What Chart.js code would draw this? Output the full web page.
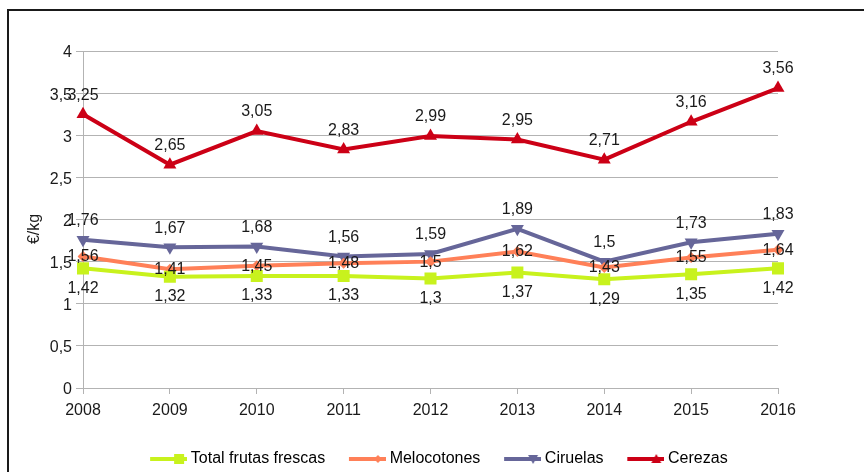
<!DOCTYPE html>
<html>
<head>
<meta charset="utf-8">
<script src="https://cdn.jsdelivr.net/npm/chart.js@4.4.0/dist/chart.umd.min.js"></script>
<style>
  html, body { margin: 0; padding: 0; background: #fff; overflow: hidden; }
  #wrap { position: relative; width: 864px; height: 472px; }
  #frame { position: absolute; left: 7px; top: 9px; width: 900px; height: 500px;
           border-left: 2px solid #1a1a1a; border-top: 2px solid #1a1a1a; pointer-events: none; }
</style>
</head>
<body>
<div id="wrap">
  <canvas id="chart" width="864" height="472"></canvas>
  <div id="frame"></div>
</div>
<script>
// datos (€/kg)
const years = ['2008', '2009', '2010', '2011', '2012', '2013', '2014', '2015', '2016'];
const totalFrutas = [1.42, 1.32, 1.33, 1.33, 1.3, 1.37, 1.29, 1.35, 1.42];
const melocotones = [1.56, 1.41, 1.45, 1.48, 1.5, 1.62, 1.43, 1.55, 1.64];
const ciruelas = [1.76, 1.67, 1.68, 1.56, 1.59, 1.89, 1.5, 1.73, 1.83];
const cerezas = [3.25, 2.65, 3.05, 2.83, 2.99, 2.95, 2.71, 3.16, 3.56];
const yTicks = [0, 0.5, 1, 1.5, 2, 2.5, 3, 3.5, 4];

const fmt = v => String(v).replace('.', ',');
const FONT = '"Liberation Sans", Arial, sans-serif';

// icono de leyenda: línea con marcador (parte izquierda transparente)
function legendIcon(color, shape) {
    const c = document.createElement('canvas');
    c.width = 55; c.height = 14;
    const g = c.getContext('2d');
    const x0 = 18;
    g.fillStyle = color;
    g.fillRect(x0, 5, 37, 4);
    const cx = x0 + 29, cy = 7;
    g.beginPath();
    if (shape === 'rect') {
        g.rect(cx - 5, cy - 5, 10, 10);
    } else if (shape === 'diamond') {
        g.moveTo(cx, cy - 4); g.lineTo(cx + 4, cy); g.lineTo(cx, cy + 4); g.lineTo(cx - 4, cy);
    } else if (shape === 'down') {
        g.moveTo(cx - 5, cy - 4); g.lineTo(cx + 5, cy - 4); g.lineTo(cx, cy + 5);
    } else {
        g.moveTo(cx - 5, cy + 4); g.lineTo(cx + 5, cy + 4); g.lineTo(cx, cy - 5);
    }
    g.closePath();
    g.fill();
    return c;
}

// etiquetas de valores sobre los puntos
const valueLabels = {
    id: 'valueLabels',
    afterDatasetsDraw(chart) {
        const ctx = chart.ctx;
        ctx.save();
        ctx.font = '16px ' + FONT;
        ctx.fillStyle = '#1a1a1a';
        ctx.textAlign = 'center';
        ctx.textBaseline = 'middle';
        chart.data.datasets.forEach((ds, i) => {
            const meta = chart.getDatasetMeta(i);
            meta.data.forEach((pt, j) => {
                ctx.fillText(fmt(ds.data[j]), pt.x, pt.y + ds.labelOffset);
            });
        });
        ctx.restore();
    }
};

// título del eje Y
const yTitle = {
    id: 'yTitle',
    afterDraw(chart) {
        const ctx = chart.ctx;
        ctx.save();
        ctx.translate(35, 229);
        ctx.rotate(-Math.PI / 2);
        ctx.font = '16px ' + FONT;
        ctx.fillStyle = '#1a1a1a';
        ctx.textAlign = 'center';
        ctx.textBaseline = 'middle';
        ctx.fillText('€/kg', 0, 0);
        ctx.restore();
    }
};

const colTotal = '#c8f21d';
const colMeloc = '#ff8058';
const colCiru = '#666699';
const colCere = '#cc0016';

new Chart(document.getElementById('chart'), {
    type: 'line',
    data: {
        labels: years,
        datasets: [
            {
                label: 'Total frutas frescas', data: totalFrutas, labelOffset: 20,
                borderColor: colTotal, backgroundColor: colTotal, borderWidth: 4,
                pointStyle: 'rect', pointRadius: 8.5, pointBorderWidth: 0,
                legendIcon: legendIcon(colTotal, 'rect')
            },
            {
                label: 'Melocotones', data: melocotones, labelOffset: 0.5,
                borderColor: colMeloc, backgroundColor: colMeloc, borderWidth: 4,
                pointStyle: 'rectRot', pointRadius: 5.5, pointBorderWidth: 0,
                legendIcon: legendIcon(colMeloc, 'diamond')
            },
            {
                label: 'Ciruelas', data: ciruelas, labelOffset: -19,
                borderColor: colCiru, backgroundColor: colCiru, borderWidth: 4,
                pointStyle: 'triangle', pointRotation: 180, pointRadius: 7.5, pointBorderWidth: 0,
                legendIcon: legendIcon(colCiru, 'down')
            },
            {
                label: 'Cerezas', data: cerezas, labelOffset: -19,
                borderColor: colCere, backgroundColor: colCere, borderWidth: 4,
                pointStyle: 'triangle', pointRadius: 7.5, pointBorderWidth: 0,
                legendIcon: legendIcon(colCere, 'up')
            }
        ]
    },
    options: {
        responsive: false,
        animation: false,
        layout: { padding: { top: 51, right: 0, left: 0, bottom: -5 } },
        scales: {
            x: {
                offset: false,
                afterFit: s => { s.height = 53; },
                grid: { drawOnChartArea: false, drawTicks: true, tickLength: 6, color: '#b3b3b3' },
                border: { color: '#b3b3b3' },
                ticks: { color: '#1a1a1a', padding: 7, maxRotation: 0, font: { family: FONT, size: 16 } }
            },
            y: {
                min: 0, max: 4,
                afterFit: s => { s.width = 83; },
                afterBuildTicks: s => { s.ticks = yTicks.map(v => ({ value: v })); },
                grid: { color: '#b3b3b3', tickLength: 7 },
                border: { color: '#b3b3b3' },
                ticks: {
                    color: '#1a1a1a', padding: 4, labelOffset: 2,
                    font: { family: FONT, size: 16 },
                    callback: v => fmt(v)
                }
            },
            // margen derecho vacío
            yRight: {
                position: 'right', min: 0, max: 4,
                afterFit: s => { s.width = 86; },
                grid: { display: false },
                border: { display: false },
                ticks: { display: false }
            }
        },
        plugins: {
            tooltip: { enabled: false },
            legend: {
                position: 'bottom',
                labels: {
                    usePointStyle: true,
                    pointStyleWidth: 46.5,
                    padding: 10,
                    color: '#1a1a1a',
                    font: { family: FONT, size: 16 },
                    generateLabels: chart => chart.data.datasets.map((ds, i) => ({
                        text: ds.label,
                        pointStyle: ds.legendIcon,
                        fillStyle: ds.borderColor,
                        strokeStyle: ds.borderColor,
                        lineWidth: 0,
                        hidden: false,
                        datasetIndex: i
                    }))
                }
            }
        }
    },
    plugins: [valueLabels, yTitle]
});
</script>
</body>
</html>
